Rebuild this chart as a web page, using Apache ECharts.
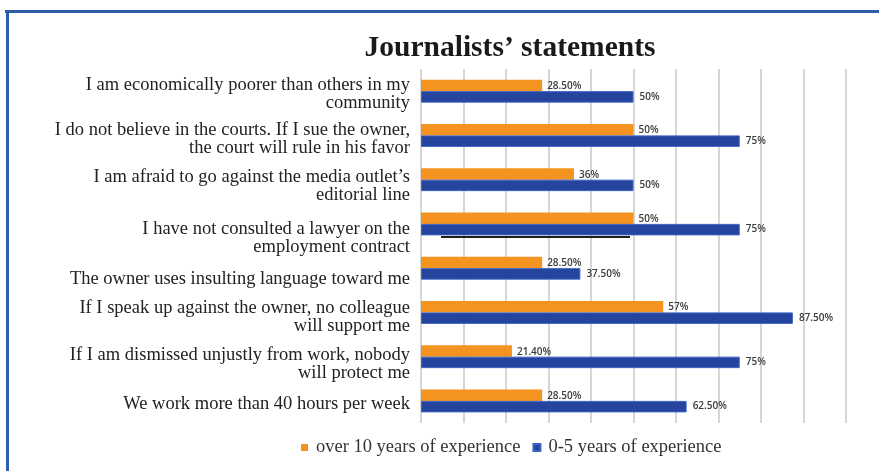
<!DOCTYPE html>
<html>
<head>
<meta charset="utf-8">
<script src="https://cdn.jsdelivr.net/npm/echarts@6/dist/echarts.min.js"></script>
<style>
html,body{margin:0;padding:0;background:#fff;}
#chart{width:879px;height:471px;}
</style>
</head>
<body>
<div id="chart"></div>
<script>
var categories = [
  "I am economically poorer than others in my\ncommunity",
  "I do not believe in the courts. If I sue the owner,\nthe court will rule in his favor",
  "I am afraid to go against the media outlet\u2019s\neditorial line",
  "I have not consulted a lawyer on the\nemployment contract",
  "The owner uses insulting language toward me",
  "If I speak up against the owner, no colleague\nwill support me",
  "If I am dismissed unjustly from work, nobody\nwill protect me",
  "We work more than 40 hours per week"
];
var over10Values = [28.5, 50, 36, 50, 28.5, 57, 21.4, 28.5];
var over10Labels = ["28.50%", "50%", "36%", "50%", "28.50%", "57%", "21.40%", "28.50%"];
var zeroTo5Values = [50, 75, 50, 75, 37.5, 87.5, 75, 62.5];
var zeroTo5Labels = ["50%", "75%", "50%", "75%", "37.50%", "87.50%", "75%", "62.50%"];
var seriesNames = ["over 10 years of experience", "0-5 years of experience"];
var titleText = "Journalists\u2019 statements";

// layout: vertical nudge (px) of each category label, as placed in the original
var labelNudge = [3.5, 4, 7, 14.5, 11, 5, 8, 3];

var chart = echarts.init(document.getElementById('chart'), null, {renderer: 'canvas'});
var serif = '"Liberation Serif", "Times New Roman", serif';
var labelFont = {fontFamily: '"Open Sans", "Liberation Sans", sans-serif', fontSize: 10, fontWeight: 600, color: '#3a3a3a'};

var rich = {t: {fontFamily: serif, fontSize: 18.5, lineHeight: 18, color: '#222', align: 'right'}};
labelNudge.forEach(function (n, i) {
  rich['s' + i] = {fontSize: 1, lineHeight: n * 2, align: 'right'};
});

chart.setOption({
  animation: false,
  backgroundColor: '#fff',
  title: {
    text: titleText,
    left: 505,
    textAlign: 'center',
    top: 28,
    textStyle: {fontFamily: serif, fontSize: 29.5, fontWeight: 'bold', color: '#1a1a1a'}
  },
  legend: {
    data: seriesNames,
    left: 296,
    top: 433,
    icon: 'rect',
    itemWidth: 7,
    itemHeight: 7,
    itemGap: 12,
    textStyle: {fontFamily: serif, fontSize: 18.5, color: '#333', padding: [0, 0, 0, 3]}
  },
  grid: {left: 421, right: 33, top: 69, bottom: 48, containLabel: false},
  xAxis: {
    type: 'value', min: 0, max: 100, interval: 10,
    axisLabel: {show: false}, axisLine: {show: false}, axisTick: {show: false},
    splitLine: {show: true, lineStyle: {color: '#d6d6d6', width: 2}}
  },
  yAxis: {
    type: 'category', inverse: true, data: categories,
    axisLine: {show: false}, axisTick: {show: false},
    axisLabel: {
      margin: 11, align: 'right', rich: rich,
      formatter: function (value, index) {
        return '{s' + index + '|\u200b}\n' + value.split('\n').map(function (l) { return '{t|' + l + '}'; }).join('\n');
      }
    }
  },
  series: [
    {
      name: seriesNames[0], type: 'bar', data: over10Values,
      barWidth: 11.5, barGap: '0%',
      itemStyle: {color: '#F4931F'},
      label: {show: true, position: 'right', distance: 5, offset: [0, 1],
        formatter: function(p){ return over10Labels[p.dataIndex]; }, ...labelFont}
    },
    {
      name: seriesNames[1], type: 'bar', data: zeroTo5Values,
      barWidth: 11.5, barGap: '0%',
      itemStyle: {color: '#24449D', borderColor: '#3d63c4', borderWidth: 1},
      label: {show: true, position: 'right', distance: 6,
        formatter: function(p){ return zeroTo5Labels[p.dataIndex]; }, ...labelFont}
    }
  ],
  graphic: [
    {type: 'rect', shape: {x: 5, y: 10, width: 874, height: 3}, style: {fill: '#2E5DAE'}, silent: true},
    {type: 'rect', shape: {x: 6, y: 10, width: 3, height: 461}, style: {fill: '#2E5DAE'}, silent: true},
    {type: 'line', shape: {x1: 441, y1: 237, x2: 630, y2: 237}, style: {stroke: '#1e1e1e', lineWidth: 2}, silent: true, z: 100}
  ]
});
</script>
</body>
</html>
